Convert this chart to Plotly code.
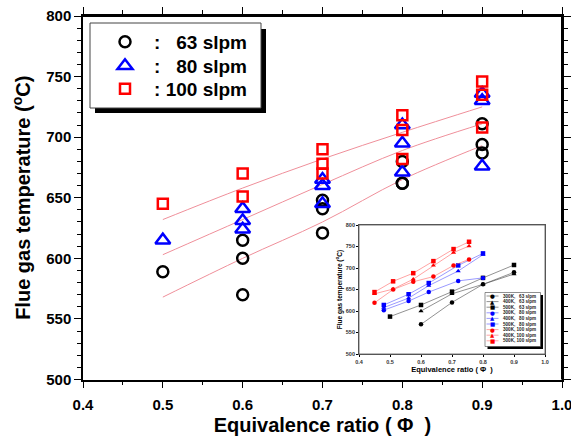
import plotly.graph_objects as go

W, H = 571, 437

# ---------------- main chart data ----------------
phi63 = [0.5, 0.6, 0.6, 0.6, 0.7, 0.7, 0.7, 0.8, 0.8, 0.8, 0.9, 0.9, 0.9]
T63 = [589, 615, 600, 570, 648, 641, 621, 680, 662, 662, 711, 694, 687]
phi80 = [0.5, 0.6, 0.6, 0.6, 0.7, 0.7, 0.7, 0.8, 0.8, 0.8, 0.9, 0.9, 0.9]
T80 = [615, 641, 631, 624, 665, 660, 645, 710, 695, 671, 736, 730, 676]
phi100 = [0.5, 0.6, 0.6, 0.7, 0.7, 0.7, 0.8, 0.8, 0.8, 0.9, 0.9, 0.9]
T100 = [645, 670, 651, 690, 678, 670, 718, 706, 682, 746, 735, 708]

fit_x = [0.5, 0.6, 0.7, 0.8, 0.9]
fit_hi = [632, 658, 682, 704, 725]
fit_mid = [603, 632, 661, 689, 711]
fit_lo = [568, 600, 630, 665, 693]

legend_names = ["63 slpm", "80 slpm", "100 slpm"]

# ---------------- inset data ----------------
in_x63_300 = [0.6, 0.7, 0.8, 0.9]
in_T63_300 = [569, 620, 662, 690]
in_x63_400 = [0.6, 0.7, 0.8, 0.9]
in_T63_400 = [600, 640, 662, 686]
in_x63_500 = [0.5, 0.6, 0.7, 0.8, 0.9]
in_T63_500 = [587, 614, 645, 677, 707]

in_x80 = [0.48, 0.56, 0.625, 0.72, 0.80]
in_T80_300 = [602, 623, 644, 670, 677]
in_T80_400 = [608, 630, 659, 693, 731]
in_T80_500 = [614, 639, 665, 706, 734]

in_x100 = [0.45, 0.51, 0.575, 0.64, 0.705, 0.755]
in_T100_300 = [619, 650, 668, 680, 706, 720]
in_T100_400 = [640, 651, 674, 706, 736, 751]
in_T100_500 = [644, 669, 688, 716, 744, 761]

inset_labels = ["300K,\u00a0\u00a0\u00a063 slpm", "400K,\u00a0\u00a0\u00a063 slpm", "500K,\u00a0\u00a0\u00a063 slpm",
                "300K,\u00a0\u00a0\u00a080 slpm", "400K,\u00a0\u00a0\u00a080 slpm", "500K,\u00a0\u00a0\u00a080 slpm",
                "300K, 100 slpm", "400K, 100 slpm", "500K, 100 slpm"]

BLACK, BLUE, RED = "#000000", "#0000ff", "#ff0000"
LBLACK, LBLUE, LRED = "rgba(60,60,60,0.8)", "rgba(60,60,255,0.75)", "rgba(255,70,70,0.7)"
FIT = "#ef8f9a"
FONT = "Liberation Sans, Arial, sans-serif"


def px(x):
    return x / W


def py(y):
    return 1 - y / H


fig = go.Figure()

# fit curves
for fy in (fit_hi, fit_mid, fit_lo):
    fig.add_trace(go.Scatter(x=fit_x, y=fy, mode="lines", line=dict(color=FIT, width=1, shape="spline"),
                             showlegend=False, hoverinfo="skip", xaxis="x", yaxis="y"))

nb, th = "\u00a0", "\u2009"
fig.add_trace(go.Scatter(x=phi63, y=T63, mode="markers", name=nb + th + ":" + nb * 3 + legend_names[0],
                         marker=dict(symbol="circle-open", size=11, color=BLACK, line=dict(width=2.5, color=BLACK)),
                         xaxis="x", yaxis="y", legend="legend"))
fig.add_trace(go.Scatter(x=phi80, y=T80, mode="markers", name=nb + th + ":" + nb * 3 + legend_names[1],
                         marker=dict(symbol="triangle-up-open", size=13, color=BLUE, line=dict(width=2.5, color=BLUE)),
                         xaxis="x", yaxis="y", legend="legend2"))
fig.add_trace(go.Scatter(x=phi100, y=T100, mode="markers", name=nb + th + ":" + nb + legend_names[2],
                         marker=dict(symbol="square-open", size=10, color=RED, line=dict(width=2.5, color=RED)),
                         xaxis="x", yaxis="y", legend="legend3"))

# inset traces
inset_series = [
    (in_x63_300, in_T63_300, BLACK, LBLACK, "circle"),
    (in_x63_400, in_T63_400, BLACK, LBLACK, "triangle-up"),
    (in_x63_500, in_T63_500, BLACK, LBLACK, "square"),
    (in_x80, in_T80_300, BLUE, LBLUE, "circle"),
    (in_x80, in_T80_400, BLUE, LBLUE, "triangle-up"),
    (in_x80, in_T80_500, BLUE, LBLUE, "square"),
    (in_x100, in_T100_300, RED, LRED, "circle"),
    (in_x100, in_T100_400, RED, LRED, "triangle-up"),
    (in_x100, in_T100_500, RED, LRED, "square"),
]
for xs, ys, c, lc, sym in inset_series:
    fig.add_trace(go.Scatter(x=xs, y=ys, mode="lines+markers", line=dict(color=lc, width=0.7),
                             marker=dict(symbol=sym, size=4.5, color=c), showlegend=False,
                             xaxis="x2", yaxis="y2"))

# ---------------- axes ----------------
main_x0, main_x1 = 83, 562
main_y0, main_y1 = 16, 379.5
in_x0, in_x1 = 359, 545
in_y0, in_y1 = 225, 354

tick_font = dict(family=FONT, size=15, color="black", weight="bold")
leg_font = dict(family=FONT, size=19, color="black", weight="bold")
fig.update_layout(
    width=W, height=H,
    margin=dict(l=0, r=0, t=0, b=0),
    paper_bgcolor="white", plot_bgcolor="white",
    xaxis=dict(domain=[px(main_x0), px(main_x1)], range=[0.4, 1.0], dtick=0.1, tick0=0.4, tickformat=".1f",
               ticks="outside", ticklen=7, tickwidth=1.2, tickcolor="black",
               minor=dict(dtick=0.05, ticks="outside", ticklen=4, tickcolor="black", tickwidth=1.2),
               showline=True, linecolor="black", linewidth=1.5, mirror="all", showgrid=False, zeroline=False,
               tickfont=tick_font, ticklabelstandoff=4, ticklabeloverflow="allow",
               title=dict(text="Equivalence ratio ( \u03a6  )", font=dict(family=FONT, size=20, color="black", weight="bold"),
                          standoff=6),
               automargin=False, anchor="y"),
    yaxis=dict(domain=[py(main_y1), py(main_y0)], range=[500, 800], dtick=50,
               ticks="outside", ticklen=7, tickwidth=1.2, tickcolor="black",
               minor=dict(dtick=10, ticks="outside", ticklen=4, tickcolor="black", tickwidth=1.2),
               showline=True, linecolor="black", linewidth=1.5, mirror="all", showgrid=False, zeroline=False,
               tickfont=tick_font, ticklabeloverflow="allow",
               title=dict(text="Flue gas temperature (<sup>o</sup>C)", font=dict(family=FONT, size=20, color="black", weight="bold"),
                          standoff=10),
               automargin=False, anchor="x"),
    yaxis3=dict(overlaying="y", side="right", range=[500, 800], dtick=50, anchor="x",
                ticks="inside", ticklen=7, tickwidth=1.2, tickcolor="black",
                minor=dict(dtick=10, ticks="inside", ticklen=4, tickcolor="black", tickwidth=1.2),
                showticklabels=False, showgrid=False, zeroline=False,
                showline=True, linecolor="black", linewidth=1.5),
    xaxis2=dict(domain=[px(in_x0), px(in_x1)], range=[0.4, 1.0], dtick=0.1, tick0=0.4, tickformat=".1f",
                ticks="outside", ticklen=2, tickwidth=0.6, tickcolor="black",
                showline=True, linecolor="#555555", linewidth=0.8, mirror=True, showgrid=False, zeroline=False,
                tickfont=dict(family=FONT, size=5.5, color="#333333", weight="bold"),
                title=dict(text="Equivalence ratio ( \u03a6  )", font=dict(family=FONT, size=7.5, color="black", weight="bold"),
                           standoff=2),
                automargin=False, anchor="y2"),
    yaxis2=dict(domain=[py(in_y1), py(in_y0)], range=[500, 800], dtick=50,
                ticks="outside", ticklen=2, tickwidth=0.6, tickcolor="black",
                showline=True, linecolor="#555555", linewidth=0.8, mirror=True, showgrid=False, zeroline=False,
                tickfont=dict(family=FONT, size=5.5, color="#333333", weight="bold"),
                title=dict(text="Flue gas temperature (<sup>o</sup>C)", font=dict(family=FONT, size=6.5, color="black", weight="bold"),
                           standoff=2),
                automargin=False, anchor="x2"),
    legend=dict(x=px(105), y=py(42), xanchor="left", yanchor="middle", bgcolor="rgba(0,0,0,0)", borderwidth=0,
                font=leg_font, itemsizing="trace"),
    legend2=dict(x=px(105), y=py(66), xanchor="left", yanchor="middle", bgcolor="rgba(0,0,0,0)", borderwidth=0,
                 font=leg_font, itemsizing="trace"),
    legend3=dict(x=px(105), y=py(89), xanchor="left", yanchor="middle", bgcolor="rgba(0,0,0,0)", borderwidth=0,
                 font=leg_font, itemsizing="trace"),
    showlegend=True,
)

# ---------------- frames and legend boxes ----------------
shapes = []
# explicit top and right edges of the main plot frame
shapes.append(dict(type="line", xref="paper", yref="paper", x0=px(main_x0), x1=px(main_x1 + 1),
                   y0=py(main_y0), y1=py(main_y0), line=dict(color="black", width=2), layer="above"))
shapes.append(dict(type="line", xref="paper", yref="paper", x0=px(main_x1), x1=px(main_x1),
                   y0=py(main_y0), y1=py(main_y1), line=dict(color="black", width=2), layer="above"))
shapes.append(dict(type="rect", xref="paper", yref="paper", x0=px(in_x0), x1=px(in_x1), y0=py(in_y1), y1=py(in_y0),
                   line=dict(color="#555555", width=0.8), fillcolor="rgba(0,0,0,0)", layer="above"))
# main legend shadow + box
shapes.append(dict(type="rect", xref="paper", yref="paper", x0=px(95), x1=px(266), y0=py(113), y1=py(29),
                   fillcolor="black", line=dict(width=0), layer="above"))
shapes.append(dict(type="rect", xref="paper", yref="paper", x0=px(90), x1=px(261), y0=py(108), y1=py(23),
                   fillcolor="white", line=dict(color="#444444", width=1), layer="above"))
# inset legend shadow + box
lx0, lx1, ly0, ly1 = 485, 540.5, 292.5, 346.5
shapes.append(dict(type="rect", xref="paper", yref="paper", x0=px(lx0 + 2.5), x1=px(lx1 + 2.5), y0=py(ly1 + 2.5),
                   y1=py(ly0 + 2.5), fillcolor="black", line=dict(width=0), layer="above"))
shapes.append(dict(type="rect", xref="paper", yref="paper", x0=px(lx0), x1=px(lx1), y0=py(ly1), y1=py(ly0),
                   fillcolor="white", line=dict(color="#444444", width=0.6), layer="above"))

annotations = []
glyph = {"circle": "\u25cf", "triangle-up": "\u25b2", "square": "\u25a0"}
for i, ((xs, ys, c, lc, sym), lab) in enumerate(zip(inset_series, inset_labels)):
    yc = 296 + i * 5.6
    shapes.append(dict(type="line", xref="paper", yref="paper", x0=px(486.5), x1=px(498.5), y0=py(yc), y1=py(yc),
                       line=dict(color=lc, width=0.7), layer="above"))
    annotations.append(dict(x=px(492.5), y=py(yc), xref="paper", yref="paper", text=glyph[sym], showarrow=False,
                            font=dict(family="DejaVu Sans", size=5.5, color=c), xanchor="center", yanchor="middle"))
    annotations.append(dict(x=px(501), y=py(yc), xref="paper", yref="paper", text=lab, showarrow=False,
                            font=dict(family=FONT, size=4.6, color="#222222", weight="bold"),
                            xanchor="left", yanchor="middle"))

fig.update_layout(shapes=shapes, annotations=annotations)

fig.write_html("out.html", config={"displayModeBar": False},
               post_script="document.body.style.margin='0';document.body.style.overflow='hidden';")
